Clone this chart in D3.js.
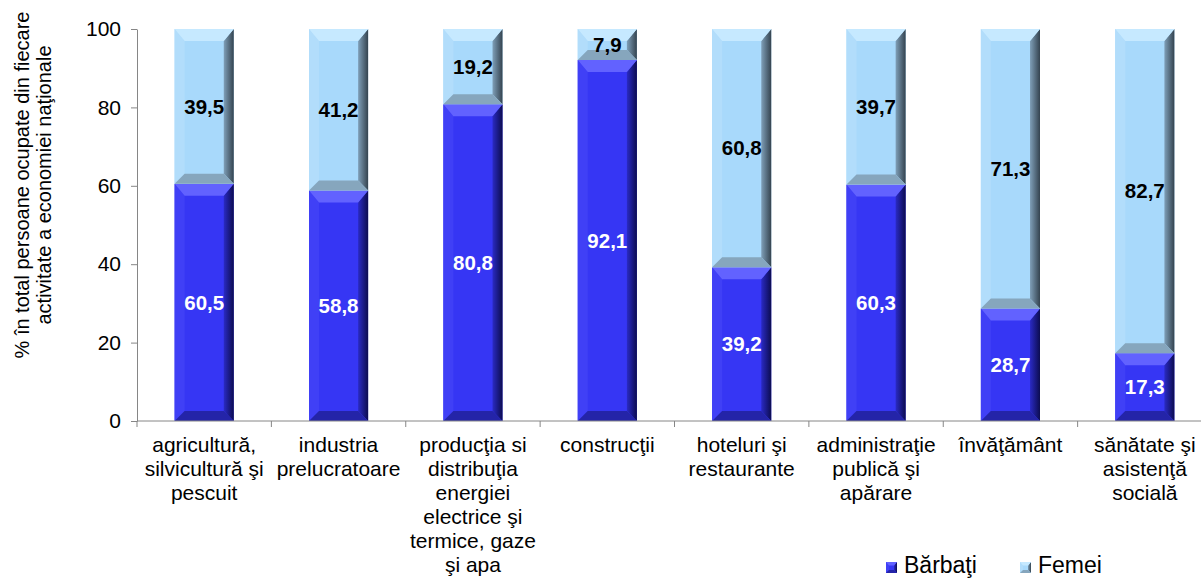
<!DOCTYPE html>
<html><head><meta charset="utf-8">
<script src="https://cdn.jsdelivr.net/npm/d3@7/dist/d3.min.js"></script>
<style>body{margin:0;background:#fff}svg{display:block;font-family:"Liberation Sans",Arial,sans-serif}</style>
</head><body><svg id="c" width="1201" height="578"></svg>
<script>
const categories = [
  ["agricultură,", "silvicultură şi", "pescuit"],
  ["industria", "prelucratoare"],
  ["producţia si", "distribuţia", "energiei", "electrice şi", "termice, gaze", "şi apa"],
  ["construcţii"],
  ["hoteluri şi", "restaurante"],
  ["administraţie", "publică şi", "apărare"],
  ["învăţământ"],
  ["sănătate şi", "asistenţă", "socială"]
];
const barbati = [60.5, 58.8, 80.8, 92.1, 39.2, 60.3, 28.7, 17.3];
const femei   = [39.5, 41.2, 19.2, 7.9, 60.8, 39.7, 71.3, 82.7];
const seriesNames = ["Bărbaţi", "Femei"];
const yTicks = [0, 20, 40, 60, 80, 100];
const yTitle = ["% în total persoane ocupate din fiecare", "activitate a economiei naţionale"];

const svg = d3.select("#c");
const x = d3.scaleBand().domain(d3.range(categories.length)).range([137, 1212]).paddingInner(0.56).paddingOuter(0.28);
const y = d3.scaleLinear().domain([0, 100]).range([421, 29]);

const pal = [
  {face:"#3636f4", top:"#6262ff", left:"#4040f6", bottom:"#2424a8", r0:"#2a2ac4", r1:"#0c0c50", text:"#fff"},
  {face:"#a8d9fb", top:"#c6e9ff", left:"#b2ddfb", bottom:"#86a6bd", r0:"#7f9fb8", r1:"#34434f", text:"#000"}
];
const defs = svg.append("defs");
pal.forEach((p,i)=>{
  const g = defs.append("linearGradient").attr("id","rg"+i).attr("x1","0").attr("x2","1").attr("y1","0").attr("y2","0");
  g.append("stop").attr("offset","0").attr("stop-color",p.r0);
  g.append("stop").attr("offset","1").attr("stop-color",p.r1);
});

function bevel(g, x0, y0, w, h, p, idx, bs) {
  const x1 = x0 + w, y1 = y0 + h;
  const bt = Math.min(bs*1.2, h/2, w/2), b = Math.min(bs, h/2, w/2);
  g.append("rect").attr("x",x0).attr("y",y0).attr("width",w).attr("height",h).attr("fill",p.face);
  const poly = (pts, fill) => g.append("polygon").attr("points", pts.map(d=>d.join(",")).join(" ")).attr("fill", fill);
  poly([[x0,y0],[x0+b,y0+bt],[x0+b,y1-b],[x0,y1]], p.left);
  poly([[x1,y0],[x1-b,y0+bt],[x1-b,y1-b],[x1,y1]], "url(#rg"+idx+")");
  poly([[x0,y1],[x1,y1],[x1-b,y1-b],[x0+b,y1-b]], p.bottom);
  poly([[x0,y0],[x1,y0],[x1-b,y0+bt],[x0+b,y0+bt]], p.top);
}

const axisColor = "#868686";
// bars
categories.forEach((c,i)=>{
  const g = svg.append("g");
  const bx = x(i), bw = x.bandwidth();
  const segs = [[0, barbati[i]], [barbati[i], barbati[i] + femei[i]]];
  segs.forEach((s,k)=>{
    const yt = y(s[1]), yb = y(s[0]);
    bevel(g, bx, yt, bw, yb - yt, pal[k], k, 10);
  });
  segs.forEach((s,k)=>{
    const v = k === 0 ? barbati[i] : femei[i];
    g.append("text").attr("x", bx + bw/2).attr("y", (y(s[0]) + y(s[1]))/2).attr("dy","0.35em")
      .attr("text-anchor","middle").attr("font-size","20.5px").attr("font-weight","bold").attr("fill",pal[k].text)
      .text(d3.format(".1f")(v).replace(".", ","));
  });
});

// y axis
const ya = svg.append("g").attr("transform","translate(137,0)")
  .call(d3.axisLeft(y).tickValues(yTicks).tickSize(6).tickSizeOuter(0).tickPadding(10));
ya.select(".domain").attr("stroke",axisColor);
ya.selectAll(".tick line").attr("stroke",axisColor);
ya.selectAll(".tick text").attr("font-size","21px").attr("fill","#000").attr("font-family","Liberation Sans, Arial, sans-serif");

// x axis
const xa = svg.append("g").attr("transform","translate(0,421)");
xa.append("line").attr("x1",137).attr("x2",1212).attr("stroke",axisColor);
d3.range(categories.length + 1).forEach(i=>{
  const bx = x(0) - x.paddingOuter() * x.step() + i * x.step();
  xa.append("line").attr("x1",bx).attr("x2",bx).attr("y1",0).attr("y2",6).attr("stroke",axisColor);
});
categories.forEach((c,i)=>{
  const cx = x(i) + x.bandwidth()/2;
  const t = xa.append("text").attr("text-anchor","middle").attr("font-size","21px").attr("fill","#000")
    .attr("x", cx).attr("y", 31);
  c.forEach((line,j)=> t.append("tspan").attr("x", cx).attr("dy", j===0 ? 0 : 24).text(line));
});

// y title
const yt = svg.append("text").attr("transform","translate(22,185) rotate(-90)").attr("text-anchor","middle")
  .attr("font-size","20px").attr("fill","#000");
yTitle.forEach((line,j)=> yt.append("tspan").attr("x",0).attr("dy", j===0 ? "0.35em" : 22).text(line));

// legend
const leg = svg.append("g");
const legX = [886, 1020];
seriesNames.forEach((n,k)=>{
  const gg = leg.append("g");
  bevel(gg, legX[k], 562, 11, 11, pal[k], k, 3);
  gg.append("text").attr("x", legX[k] + 18).attr("y", 573).attr("font-size","23px").attr("fill","#000").text(n);
});
</script></body></html>
